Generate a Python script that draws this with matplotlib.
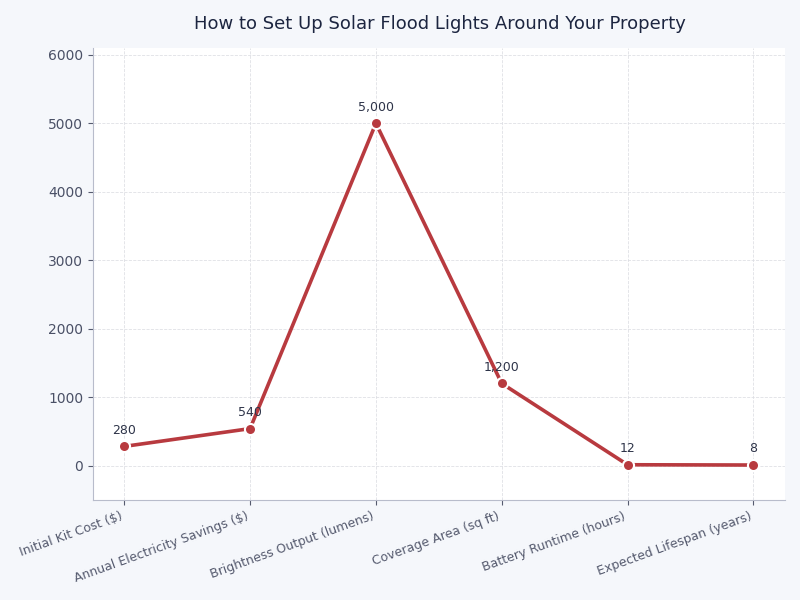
import matplotlib.pyplot as plt
import numpy as np

categories = [
    "Initial Kit Cost ($)",
    "Annual Electricity Savings ($)",
    "Brightness Output (lumens)",
    "Coverage Area (sq ft)",
    "Battery Runtime (hours)",
    "Expected Lifespan (years)",
]
values = [280, 540, 5000, 1200, 12, 8]
value_labels = ["280", "540", "5,000", "1,200", "12", "8"]

LINE_COLOR = "#b83a3f"
BG = "#f5f7fb"

fig = plt.figure(figsize=(8, 6), dpi=100)
fig.patch.set_facecolor(BG)
ax = fig.add_axes([0.116, 0.167, 0.865, 0.753])
ax.set_facecolor("white")

x = np.arange(len(categories))
ax.plot(x, values, color=LINE_COLOR, linewidth=2.6, marker="o", markersize=8,
        markerfacecolor=LINE_COLOR, markeredgecolor="white", markeredgewidth=1.5,
        zorder=3)
for xi, v, lab in zip(x, values, value_labels):
    ax.annotate(lab, (xi, v), textcoords="offset points", xytext=(0, 7),
                ha="center", va="bottom", fontsize=9, color="#2d3348")

ax.set_xlim(-0.25, 5.25)
ax.set_ylim(-500, 6100)
ax.set_xticks(x)
ax.set_xticklabels(categories, rotation=20, ha="right",
                   fontsize=9, color="#555a6e")
ax.set_yticks(range(0, 6001, 1000))
ax.tick_params(axis="y", labelsize=10, labelcolor="#4a5066", color="#555a6e")
ax.tick_params(axis="x", color="#555a6e")

for spine in ("top", "right"):
    ax.spines[spine].set_visible(False)
for spine in ("left", "bottom"):
    ax.spines[spine].set_color("#b8bccb")
ax.grid(True, linestyle="--", linewidth=0.6, color="#dcdde2", alpha=0.9)
ax.set_axisbelow(True)

fig.text(0.55, 0.96, "How to Set Up Solar Flood Lights Around Your Property",
         ha="center", va="center", fontsize=13, color="#1c2540")

fig.savefig("out.png", dpi=100, facecolor=BG)
